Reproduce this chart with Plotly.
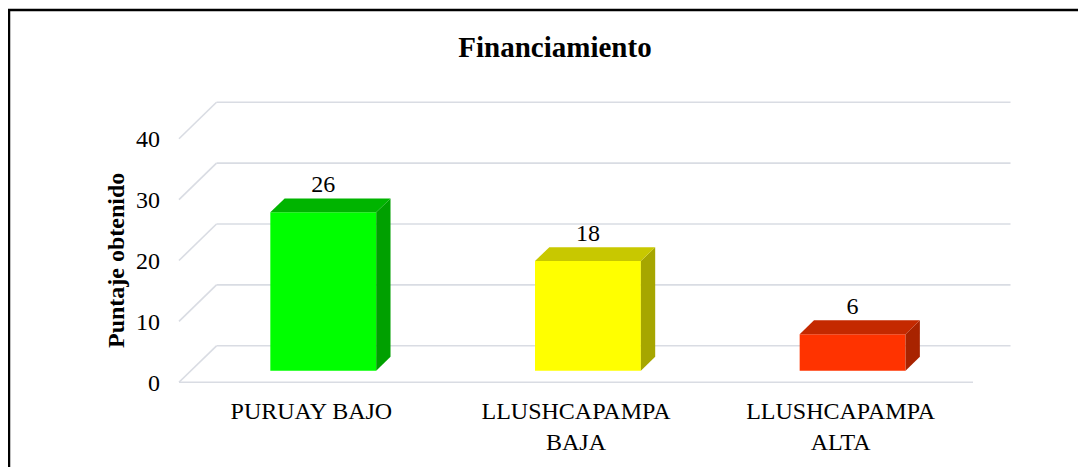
import plotly.graph_objects as go

# ---- data ----
categories = ["PURUAY BAJO", "LLUSHCAPAMPA<br>BAJA", "LLUSHCAPAMPA<br>ALTA"]
values = [26, 18, 6]
front_colors = ["#00FF00", "#FFFF00", "#FF3300"]
top_colors = ["#00B400", "#C8C800", "#C42900"]
side_colors = ["#00A000", "#A6A600", "#A82300"]
y_ticks = [0, 10, 20, 30, 40]

# ---- pseudo-3D projection parameters (data units) ----
DX = 0.1417    # x shift for full depth
DY = 5.99      # y shift for full depth
D_FRONT = 0.318
D_BACK = 0.70
HALF_W = 0.2
FLOOR_X0, FLOOR_X1 = -0.5, 2.5

# page body has an 8px margin; figure coords = screen coords - 8
W, H = 1078, 459
L, R, T, B = 153, 0, 72, 73
PX_X = 264.67
PX_Y = 6.09
x_min = FLOOR_X0 - (171 - L) / PX_X
x_max = x_min + (W - L - R) / PX_X
y_min = -((H - B) - 374.3) / PX_Y
y_max = y_min + (H - B - T) / PX_Y
PW, PH = W - L - R, H - B - T

grid_color = "#D9DCE3"
fig = go.Figure()

shapes = []
for v in y_ticks:
    shapes.append(dict(type="line", xref="x", yref="y", layer="below",
                       x0=FLOOR_X0, y0=v, x1=FLOOR_X0 + DX, y1=v + DY,
                       line=dict(color=grid_color, width=1.6)))
    shapes.append(dict(type="line", xref="x", yref="y", layer="below",
                       x0=FLOOR_X0 + DX, y0=v + DY, x1=FLOOR_X1 + DX, y1=v + DY,
                       line=dict(color=grid_color, width=1.6)))
shapes.append(dict(type="line", xref="x", yref="y", layer="below",
                   x0=FLOOR_X0, y0=0, x1=FLOOR_X1, y1=0,
                   line=dict(color=grid_color, width=1.6)))

for i, v in enumerate(values):
    xc = i + DX * D_FRONT
    yb = DY * D_FRONT
    ddx = DX * (D_BACK - D_FRONT)
    ddy = DY * (D_BACK - D_FRONT)
    fig.add_trace(go.Scatter(
        x=[xc + HALF_W, xc + HALF_W + ddx, xc + HALF_W + ddx, xc + HALF_W, xc + HALF_W],
        y=[yb, yb + ddy, yb + v + ddy, yb + v, yb],
        fill="toself", fillcolor=side_colors[i], mode="lines",
        line=dict(width=0, color=side_colors[i]), hoverinfo="skip", showlegend=False))
    fig.add_trace(go.Scatter(
        x=[xc - HALF_W, xc - HALF_W + ddx, xc + HALF_W + ddx, xc + HALF_W, xc - HALF_W],
        y=[yb + v, yb + v + ddy, yb + v + ddy, yb + v, yb + v],
        fill="toself", fillcolor=top_colors[i], mode="lines",
        line=dict(width=0, color=top_colors[i]), hoverinfo="skip", showlegend=False))

fig.add_trace(go.Bar(
    x=[i + DX * D_FRONT for i in range(len(values))],
    y=values,
    base=[DY * D_FRONT] * len(values),
    width=2 * HALF_W,
    marker=dict(color=front_colors, line=dict(width=0)),
    hoverinfo="skip", showlegend=False))

fig.add_trace(go.Scatter(
    x=[i + DX * D_FRONT for i in range(len(values))],
    y=[v + DY * D_BACK for v in values],
    mode="text", text=[str(v) for v in values], textposition="top center",
    textfont=dict(family="Liberation Serif", size=24, color="#000000"),
    hoverinfo="skip", showlegend=False))

shapes.append(dict(type="rect", xref="paper", yref="paper",
                   x0=(1 - L) / PW, x1=(W + 20 - L) / PW,
                   y0=-(H + 20 - (H - B)) / PH,
                   y1=1 + (T - 2) / PH,
                   line=dict(color="black", width=2.5), layer="above"))

fig.update_layout(
    width=W, height=H,
    margin=dict(l=L, r=R, t=T, b=B, autoexpand=False),
    paper_bgcolor="white", plot_bgcolor="white",
    font=dict(family="Liberation Serif", color="#000000"),
    title=dict(text="<b>Financiamiento</b>", x=547 / W, xanchor="center",
               y=1 - 39 / H, yanchor="middle", yref="container",
               font=dict(family="Liberation Serif", size=29, color="#000000")),
    xaxis=dict(range=[x_min, x_max], tickvals=list(range(len(categories))),
               ticktext=categories, showgrid=False, zeroline=False, showline=False,
               ticks="", tickfont=dict(size=24), automargin=False),
    yaxis=dict(range=[y_min, y_max], tickvals=y_ticks, showgrid=False,
               zeroline=False, showline=False, ticks="", tickfont=dict(size=24),
               automargin=False),
    annotations=[dict(text="<b>Puntaje obtenido</b>", textangle=-90,
                      xref="paper", yref="paper",
                      x=(108 - L) / PW, y=((H - B) - 253) / PH,
                      xanchor="center", yanchor="middle", showarrow=False,
                      font=dict(family="Liberation Serif", size=24, color="#000000"))],
    shapes=shapes,
)
fig.write_html("out.html")
